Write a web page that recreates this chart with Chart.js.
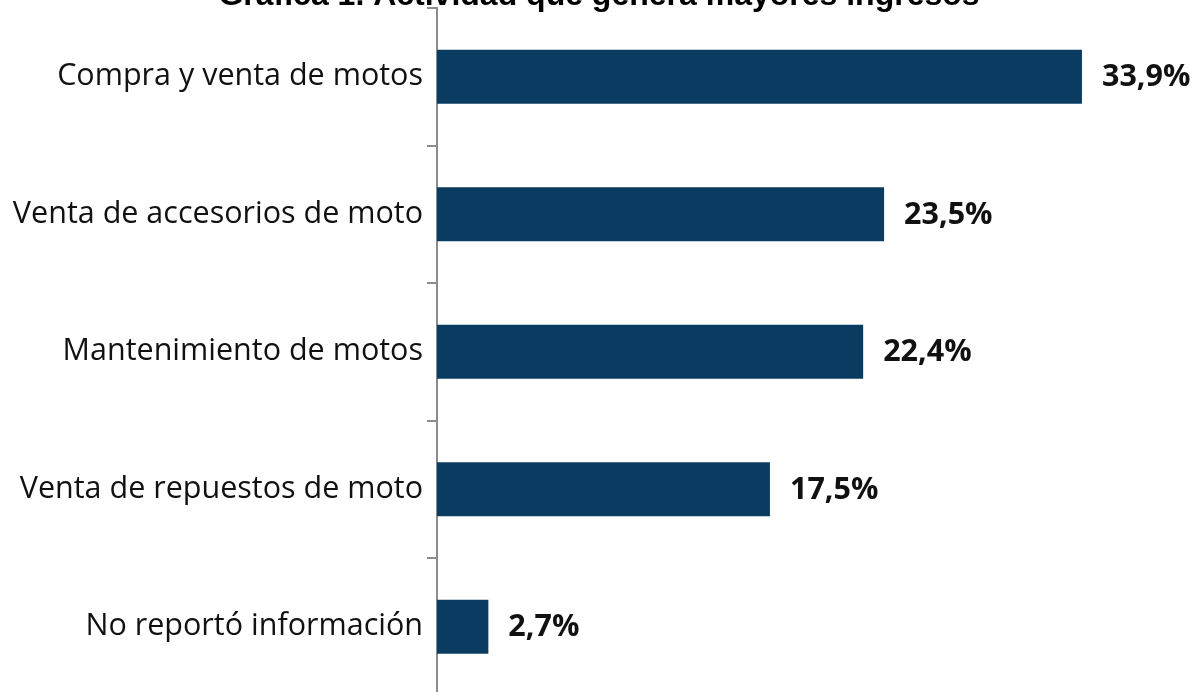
<!DOCTYPE html>
<html>
<head>
<meta charset="utf-8">
<script src="https://cdn.jsdelivr.net/npm/chart.js@4"></script>
<style>
    html, body { margin: 0; padding: 0; background: #fff; overflow: hidden; }
    body { width: 1198px; height: 692px; position: relative; }
    #chart { position: absolute; left: 0; top: -32px; width: 1198px; height: 732px; }
</style>
</head>
<body>
<canvas id="chart" width="1198" height="732"></canvas>
<script>
const titleText = 'Gráfica 1. Actividad que genera mayores ingresos';
const categories = [
    'Compra y venta de motos',
    'Venta de accesorios de moto',
    'Mantenimiento de motos',
    'Venta de repuestos de moto',
    'No reportó información'
];
const values = [33.9, 23.5, 22.4, 17.5, 2.7];

// value labels at the end of each bar
const barLabels = {
    id: 'barLabels',
    afterDatasetsDraw(chart) {
        const ctx = chart.ctx;
        const meta = chart.getDatasetMeta(0);
        ctx.save();
        ctx.font = 'bold 30.5px "Open Sans"';
        ctx.fillStyle = '#111';
        ctx.textAlign = 'left';
        ctx.textBaseline = 'middle';
        meta.data.forEach((bar, i) => {
            const txt = values[i].toFixed(1).replace('.', ',') + '%';
            ctx.fillText(txt, bar.x + 20, bar.y + 1);
        });
        ctx.restore();
    }
};

new Chart(document.getElementById('chart'), {
    type: 'bar',
    data: {
        labels: categories,
        datasets: [{
            data: values,
            backgroundColor: '#0a3c62',
            borderWidth: 0,
            categoryPercentage: 1,
            barPercentage: 0.393
        }]
    },
    options: {
        indexAxis: 'y',
        responsive: false,
        animation: false,
        layout: { padding: { top: 0, right: 0, bottom: 4.5, left: 0 } },
        plugins: {
            legend: { display: false },
            tooltip: { enabled: false },
            title: {
                display: true,
                text: titleText,
                color: '#000',
                font: { family: 'Arial, "Liberation Sans"', size: 32, weight: 'bold', lineHeight: 0.75 },
                padding: { top: 16, bottom: 0 }
            }
        },
        scales: {
            x: {
                display: false,
                min: 0,
                max: 40
            },
            y: {
                afterFit(scale) {
                    scale.width = 437;
                    scale.paddingTop = 0;
                    scale.paddingBottom = 0;
                },
                border: { display: true, color: '#8c8c8c', width: 2 },
                grid: {
                    offset: true,
                    drawOnChartArea: false,
                    drawTicks: true,
                    tickLength: 10,
                    color: '#8c8c8c',
                    lineWidth: 2
                },
                ticks: {
                    color: '#111',
                    padding: 4,
                    font: { family: '"Open Sans"', size: 30.5 }
                }
            }
        }
    },
    plugins: [barLabels]
});
</script>
</body>
</html>
